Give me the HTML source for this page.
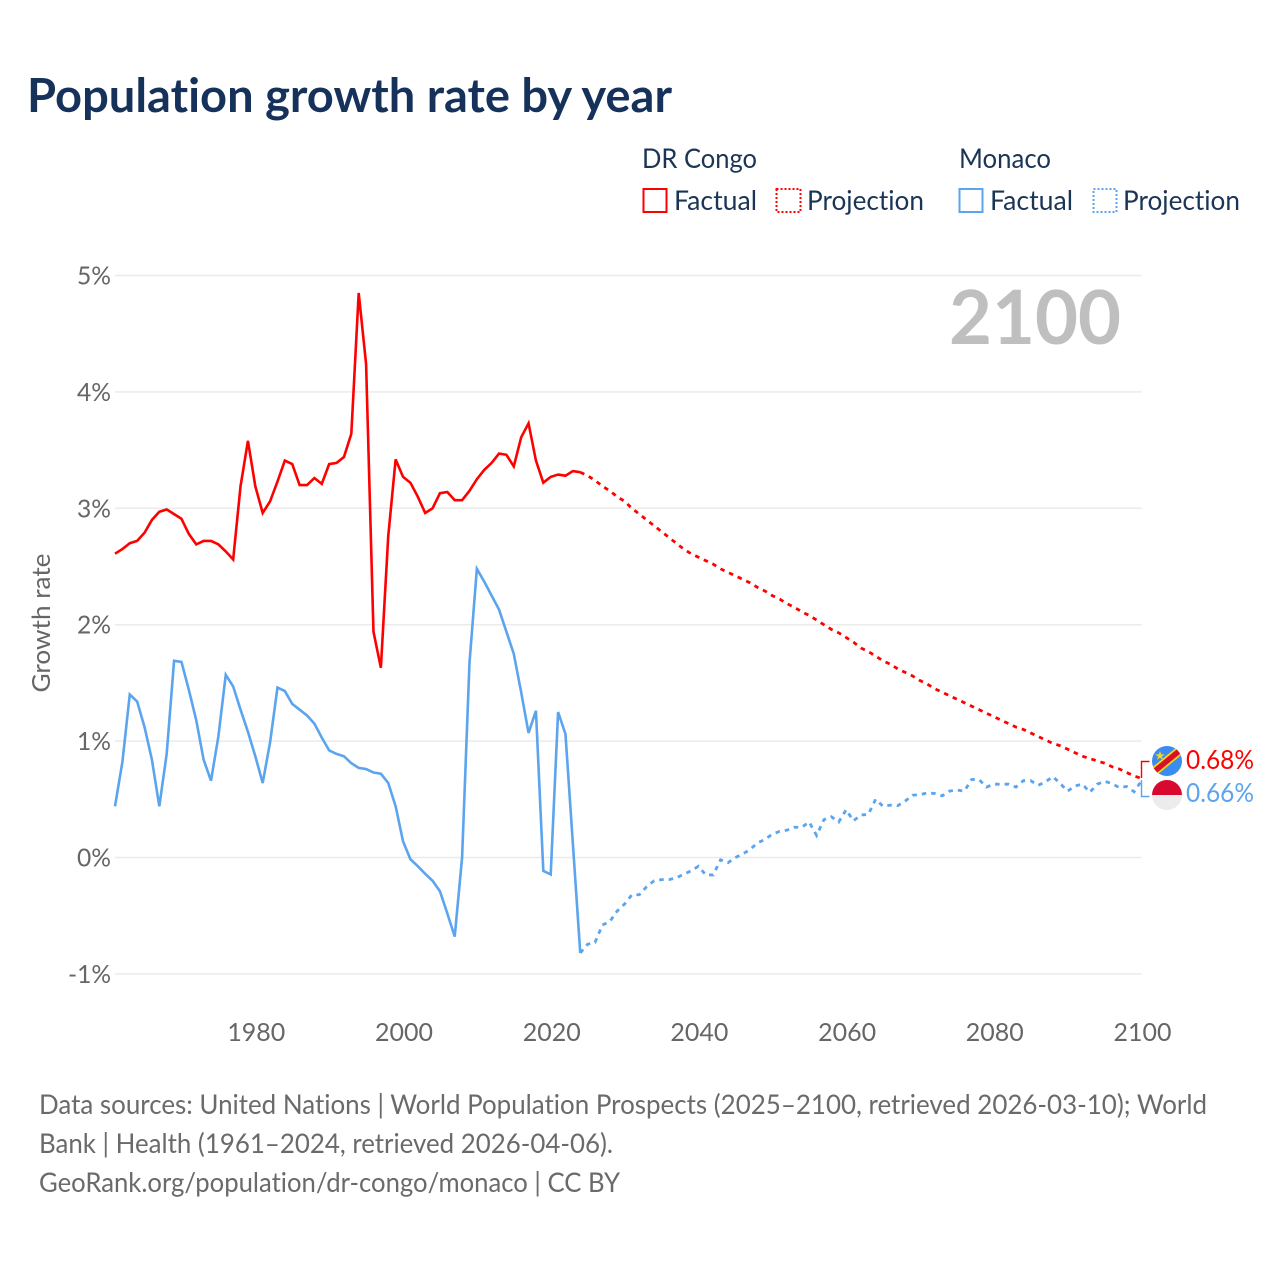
<!DOCTYPE html>
<html lang="en">
<head>
<meta charset="utf-8">
<title>Population growth rate by year</title>
<style>
html,body{margin:0;padding:0;background:#fff}
svg{display:block;font-family:"Lato","Carlito","Liberation Sans",sans-serif;font-variant-ligatures:none;font-feature-settings:"liga" 0,"clig" 0}
</style>
</head>
<body>
<svg id="chart" xmlns="http://www.w3.org/2000/svg" width="1280" height="1280" viewBox="0 0 1280 1280">
  <rect width="1280" height="1280" fill="#ffffff"/>
  <text x="27" y="112" font-size="47" font-weight="700" fill="#17325a" textLength="645" lengthAdjust="spacingAndGlyphs">Population growth rate by year</text>

  <g font-size="27" fill="#1b3556">
    <text x="642" y="168" textLength="115" lengthAdjust="spacingAndGlyphs">DR Congo</text>
    <text x="959" y="168" textLength="92" lengthAdjust="spacingAndGlyphs">Monaco</text>
    <rect x="643.5" y="189" width="23" height="23" fill="none" stroke="#ff0000" stroke-width="2"/>
    <text x="674" y="210" textLength="83" lengthAdjust="spacingAndGlyphs">Factual</text>
    <rect x="776.5" y="189" width="24" height="23" fill="none" stroke="#ff0000" stroke-width="2" stroke-dasharray="2 2"/>
    <text x="807" y="210" textLength="117" lengthAdjust="spacingAndGlyphs">Projection</text>
    <rect x="959.5" y="189" width="23" height="23" fill="none" stroke="#5ba4ee" stroke-width="2"/>
    <text x="990" y="210" textLength="83" lengthAdjust="spacingAndGlyphs">Factual</text>
    <rect x="1093.5" y="189" width="23" height="23" fill="none" stroke="#5ba4ee" stroke-width="2" stroke-dasharray="2 2"/>
    <text x="1123" y="210" textLength="117" lengthAdjust="spacingAndGlyphs">Projection</text>
  </g>

  <g id="grid"></g>
  <g id="yticks" font-size="25" fill="#666666" text-anchor="end"></g>
  <g id="xticks" font-size="25" fill="#666666" text-anchor="middle"></g>

  <text transform="translate(50,623) rotate(-90)" text-anchor="middle" font-size="25" fill="#666666" textLength="139" lengthAdjust="spacingAndGlyphs">Growth rate</text>
  <text x="949" y="344" font-size="75" font-weight="700" fill="#bfbfbf" textLength="172" lengthAdjust="spacingAndGlyphs">2100</text>

  <g id="series"></g>

  <path d="M1141.5 778V761.5H1149.5" fill="none" stroke="#ff0000" stroke-width="1.4"/>
  <path d="M1141.5 780V796.5H1149.5" fill="none" stroke="#5ba4ee" stroke-width="1.4"/>

  <defs>
    <clipPath id="flag-cd-clip"><circle cx="1167" cy="761" r="15"/></clipPath>
    <clipPath id="flag-mc-clip"><circle cx="1167" cy="795" r="15"/></clipPath>
  </defs>
  <g clip-path="url(#flag-cd-clip)">
    <rect x="1152" y="746" width="30" height="30" fill="#3a8cf0"/>
    <path d="M1150 775L1184 747" stroke="#f7d618" stroke-width="9"/>
    <path d="M1150 775L1184 747" stroke="#d8102a" stroke-width="5.5"/>
    <polygon points="1160,751 1161.2,754.4 1164.8,754.4 1161.9,756.5 1163,759.9 1160,757.8 1157,759.9 1158.1,756.5 1155.2,754.4 1158.8,754.4" fill="#f7d618"/>
  </g>
  <g clip-path="url(#flag-mc-clip)">
    <rect x="1152" y="780" width="30" height="15" fill="#d8082e"/>
    <rect x="1152" y="795" width="30" height="15" fill="#ececec"/>
  </g>
  <text x="1186" y="769" font-size="26" fill="#ff0000" textLength="68" lengthAdjust="spacingAndGlyphs">0.68%</text>
  <text x="1186" y="802" font-size="26" fill="#5ba4ee" textLength="68" lengthAdjust="spacingAndGlyphs">0.66%</text>

  <g font-size="27" fill="#6a6a6a">
    <text x="39" y="1114" textLength="1168" lengthAdjust="spacingAndGlyphs">Data sources: United Nations | World Population Prospects (2025–2100, retrieved 2026-03-10); World</text>
    <text x="39" y="1153" textLength="574" lengthAdjust="spacingAndGlyphs">Bank | Health (1961–2024, retrieved 2026-04-06).</text>
    <text x="39" y="1192" textLength="581" lengthAdjust="spacingAndGlyphs">GeoRank.org/population/dr-congo/monaco | CC BY</text>
  </g>
</svg>

<script>
const yTickValues = [-1, 0, 1, 2, 3, 4, 5];
const yTickLabels = ["-1%", "0%", "1%", "2%", "3%", "4%", "5%"];
const xTickValues = [1980, 2000, 2020, 2040, 2060, 2080, 2100];
const xTickLabels = ["1980", "2000", "2020", "2040", "2060", "2080", "2100"];

const factualStartYear = 1961;
const projectionStartYear = 2024;

const drCongoFactual = [
  2.61,2.65,2.70,2.72,2.79,2.90,2.97,2.99,2.95,2.91,
  2.78,2.69,2.72,2.72,2.69,2.63,2.56,3.19,3.58,3.19,
  2.96,3.06,3.23,3.41,3.38,3.20,3.20,3.26,3.21,3.38,
  3.39,3.44,3.64,4.85,4.24,1.94,1.63,2.76,3.42,3.27,
  3.22,3.10,2.96,3.00,3.13,3.14,3.07,3.07,3.15,3.25,
  3.33,3.39,3.47,3.46,3.36,3.61,3.73,3.41,3.22,3.27,
  3.29,3.28,3.32,3.31
];
const drCongoProjection = [
  3.31,3.28,3.24,3.19,3.15,3.10,3.06,3.00,2.95,2.90,
  2.85,2.80,2.75,2.70,2.65,2.61,2.58,2.55,2.52,2.48,
  2.45,2.42,2.39,2.36,2.32,2.29,2.25,2.22,2.18,2.15,
  2.11,2.08,2.04,2.00,1.96,1.93,1.89,1.85,1.80,1.77,
  1.73,1.69,1.66,1.62,1.59,1.56,1.52,1.49,1.45,1.42,
  1.39,1.36,1.33,1.30,1.27,1.24,1.21,1.18,1.15,1.12,
  1.10,1.07,1.04,1.01,0.98,0.96,0.93,0.90,0.87,0.85,
  0.83,0.81,0.78,0.76,0.73,0.70,0.68
];
const monacoFactual = [
  0.44,0.82,1.40,1.34,1.12,0.84,0.44,0.89,1.69,1.68,
  1.44,1.18,0.84,0.66,1.04,1.57,1.47,1.27,1.08,0.87,
  0.64,0.99,1.46,1.43,1.32,1.27,1.22,1.15,1.03,0.92,
  0.89,0.87,0.81,0.77,0.76,0.73,0.72,0.64,0.44,0.14,
  -0.015,-0.075,-0.14,-0.20,-0.29,-0.48,-0.68,0.00,1.67,2.48,
  2.37,2.25,2.13,1.94,1.75,1.42,1.07,1.26,-0.115,-0.145,
  1.25,1.06,0.12,-0.82
];
const monacoProjection = [
  -0.82,-0.745,-0.73,-0.58,-0.55,-0.46,-0.40,-0.32,-0.32,-0.25,
  -0.20,-0.19,-0.19,-0.175,-0.145,-0.115,-0.075,-0.15,-0.15,-0.02,
  -0.045,0.00,0.03,0.07,0.125,0.155,0.20,0.225,0.235,0.26,
  0.26,0.305,0.19,0.325,0.35,0.305,0.41,0.315,0.365,0.37,
  0.50,0.44,0.45,0.445,0.485,0.535,0.54,0.555,0.55,0.53,
  0.57,0.58,0.57,0.67,0.67,0.605,0.63,0.63,0.63,0.605,
  0.66,0.66,0.62,0.65,0.695,0.635,0.57,0.615,0.63,0.56,
  0.63,0.655,0.635,0.60,0.61,0.565,0.66
];

const SVG_NS = "http://www.w3.org/2000/svg";
const PLOT = { x0: 115, x1: 1141.5, y0: 857.5, pxPerPct: 116.4, yearMin: 1961, yearMax: 2100 };
const RED = "#ff0000";
const BLUE = "#5ba4ee";

function xScale(year) {
  return PLOT.x0 + (year - PLOT.yearMin) * (PLOT.x1 - PLOT.x0) / (PLOT.yearMax - PLOT.yearMin);
}
function yScale(value) {
  return PLOT.y0 - value * PLOT.pxPerPct;
}
function linePath(values, startYear) {
  return values.map((v, i) => (i ? "L" : "M") + xScale(startYear + i).toFixed(2) + " " + yScale(v).toFixed(2)).join("");
}

const gridGroup = document.getElementById("grid");
const yTickGroup = document.getElementById("yticks");
const xTickGroup = document.getElementById("xticks");
const seriesGroup = document.getElementById("series");

yTickValues.forEach((value, i) => {
  const line = document.createElementNS(SVG_NS, "line");
  
  
  line.setAttribute("x1", PLOT.x0);
  line.setAttribute("x2", PLOT.x1);
  line.setAttribute("y1", yScale(value));
  line.setAttribute("y2", yScale(value));
  line.setAttribute("stroke", "#ebebeb");
  line.setAttribute("stroke-width", "1.5");
  gridGroup.appendChild(line);

  const label = document.createElementNS(SVG_NS, "text");
  
  
  label.setAttribute("x", 111);
  label.setAttribute("y", yScale(value) + 9);
  label.setAttribute("textLength", yTickLabels[i].length === 3 ? 43 : 34);
  label.setAttribute("lengthAdjust", "spacingAndGlyphs");
  label.textContent = yTickLabels[i];
  yTickGroup.appendChild(label);
});

xTickValues.forEach((year, i) => {
  const label = document.createElementNS(SVG_NS, "text");
  
  
  label.setAttribute("x", xScale(year) + 1);
  label.setAttribute("y", 1041);
  label.setAttribute("textLength", 58);
  label.setAttribute("lengthAdjust", "spacingAndGlyphs");
  label.textContent = xTickLabels[i];
  xTickGroup.appendChild(label);
});

function addFactual(values, color, name) {
  const path = document.createElementNS(SVG_NS, "path");
  
  
  path.setAttribute("d", linePath(values, factualStartYear));
  path.setAttribute("fill", "none");
  path.setAttribute("stroke", color);
  path.setAttribute("stroke-width", "2.6");
  path.setAttribute("stroke-linejoin", "miter");
  seriesGroup.appendChild(path);
}
function addProjection(values, color, name) {
  const path = document.createElementNS(SVG_NS, "path");
  
  
  path.setAttribute("d", linePath(values, projectionStartYear));
  path.setAttribute("fill", "none");
  path.setAttribute("stroke", color);
  path.setAttribute("stroke-width", "2.8");
  path.setAttribute("stroke-dasharray", "4.5 5");
  seriesGroup.appendChild(path);
}

addFactual(monacoFactual, BLUE, "monaco-factual-line");
addProjection(monacoProjection, BLUE, "monaco-projection-line");
addFactual(drCongoFactual, RED, "dr-congo-factual-line");
addProjection(drCongoProjection, RED, "dr-congo-projection-line");
</script>
</body>
</html>
